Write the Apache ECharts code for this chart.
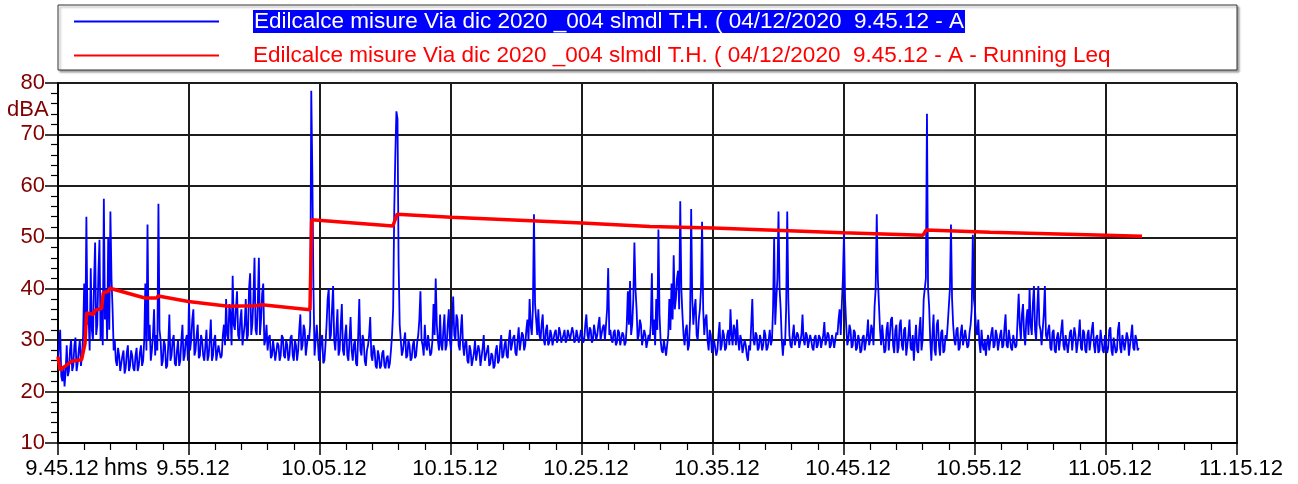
<!DOCTYPE html>
<html>
<head>
<meta charset="utf-8">
<script src="https://cdn.jsdelivr.net/npm/echarts@6/dist/echarts.min.js"></script>
<style>
  html, body { margin: 0; padding: 0; background: #fff; }
  #chart { width: 1298px; height: 484px; }
</style>
</head>
<body>
<div id="chart"></div>
<script>
// Measurement start: 9.45.12, samples every 5 s
const startSeconds = 9 * 3600 + 45 * 60 + 12;
const sampleStep = 5;

const seriesNames = [
  'Edilcalce misure Via dic 2020 _004 slmdl T.H. ( 04/12/2020  9.45.12 - A',
  'Edilcalce misure Via dic 2020 _004 slmdl T.H. ( 04/12/2020  9.45.12 - A - Running Leq'
];

// Instantaneous A-weighted level, dBA
const levelA = [
  26,29, 32,23, 22,25, 21,24, 29,23, 24,28, 30,24, 25,29, 30.5,24, 25.5,28,
  30,25, 27,31, 41,30, 54,33, 35,28, 44,32, 30,41, 49,31, 33,43, 49.5,30,
  38,29, 57.5,34, 40,30, 50,32, 55,42, 36,28, 30,26, 25,28.5, 27,24, 24,27,
  28,23.5, 24.5,27.5, 29,24, 25,28, 27,24.5, 24,27, 28.5,24, 25,27.5, 29,25, 26,30,
  41,28, 52.5,30, 33,26, 28,31, 36,27, 31,28, 56.5,32, 30,25, 26,30, 29,24.5,
  25,29, 35,26, 27,30, 31,25.5, 25,28, 30,25, 26,30, 33,26, 27,30, 31,26,
  38,28, 30,34, 36,27, 28,31, 33,26.5, 27,31, 30,27, 26,29, 32,26, 27,30,
  34,26, 27,30, 31,26, 26,29, 29,26.5, 27,31, 33,29, 38,31, 30,37, 35,29,
  42.5,33, 32,36, 39.5,31, 30,34, 36,29, 29,33, 38,30, 31,40, 43,31, 33,38,
  46,32, 31,37, 46,31, 34,39, 41,29, 30,33, 28,30.5, 31,26.5, 27,30, 30,26,
  26,29.5, 29,26, 27,31, 30.5,27, 26.5,30, 29,26, 27,30.5, 31,27, 26,30, 29,26,
  28,32, 35,28, 29,33, 32,27, 27,31, 30,33, 78.5,62, 40,27, 30,33, 30,26,
  27,30, 31,25.5, 26,29, 33,38, 40,30, 31,36, 40.5,30, 28,32, 36,27, 28,33,
  37,28, 27,31, 33,27, 26,30, 34.5,28, 26,29, 30,25.5, 25,31, 38,28, 27,31,
  30,26, 25,28, 29,31, 34.5,27, 26,29, 28,25, 24.5,28, 27,24.5, 25,27.5, 28,25,
  24.5,26.5, 27,24.5, 25.5,28, 31,36, 55,66, 74.5,73, 45,33, 30,27, 28,30, 31.5,26.5,
  27,30, 29,26, 26.5,29, 30,26.5, 27,29.5, 31,34, 39.5,30, 29,27, 33,29, 28,31,
  31,27, 27.5,30, 37,31, 42,33, 30,28, 35,29, 28,32, 35,28, 29,33, 36,30,
  28,33, 38.5,31, 30,35, 34,29, 28,32, 35,29, 27,29.5, 30,26, 25.5,29, 28,25,
  25,27.5, 30,26, 26,29, 28,25, 25,28.5, 31,26, 26,28, 29,25, 25.5,27.5, 27,24.5,
  25,28, 29,25.5, 26,29, 31,26.5, 27,29, 30,27, 26.5,30, 32,28, 28,30.5, 31,27.5,
  27,30, 32.5,28, 28,31.5, 31,28, 29,32, 34,30, 38,33, 31,36, 54.5,37, 34,31,
  36,31, 30,33, 35,30, 29,32, 33,29, 29.5,32, 31,29, 29,31.5, 32,29.5, 30,32.5,
  31.5,29.5, 29.5,31, 32,29.5, 30,32, 32,30, 30,32.5, 31.5,29.5, 30,32, 32,29.5, 30.5,32,
  31,29.5, 30,33, 35,31, 30,32.5, 32,29.5, 30,33, 33,30, 31,33, 34.5,30, 30,32.5,
  33,30, 30,36, 44,31, 32,30, 29.5,31.5, 32,29, 29.5,32, 31.5,29, 29,31.5, 31,29,
  29.5,33, 39.5,33, 41.5,31, 33,38, 49,40, 36,30, 31,34, 33,29, 29,32, 31,28.5,
  28.5,31, 30,33, 43,31, 34,29, 38,32, 51.5,35, 30,28, 27.5,30, 30,27, 27,31,
  38,32, 41,34, 46.5,36, 38,42, 43.5,36, 57,40, 35,31, 29,32, 33,28, 29,34,
  55.5,38, 33,36, 38,31, 30,34, 36,40, 53,36, 31,34, 35,30, 28,32, 31,27.5,
  27.5,30, 30,27, 28,31, 33.5,28, 29,32, 31,28, 28.5,31, 32,29, 36,31, 29,33,
  32,29, 34,30, 28,31, 30,27.5, 27.5,30, 29,27, 26,29, 28,33, 38,30, 29,31.5,
  31,28, 28.5,31, 30,28, 29,32, 31,28, 28.5,30, 32,29, 30,36, 50,33, 38,42,
  55,40, 36,30, 27,30, 29,36, 55,38, 31,29, 28.5,31, 33,29, 29,31.5, 31,28.5,
  28.5,31, 35,30, 29,31.5, 31,28.5, 28.5,31, 30,28.5, 28,30.5, 31,28.5, 29,31, 30.5,28.5,
  28.5,31, 33.5,29, 30,31.5, 31,28.5, 29,31, 30,28.5, 28.5,31.5, 31,34, 36,31, 37,42,
  51,38, 33,29, 30,33, 32,28.5, 29,32, 31.5,28, 28.5,31, 30,27.5, 28,30.5, 31,28,
  28,31, 34,29, 30,33, 32,29, 36.5,40, 54.5,42, 37,32, 29,33, 33,27.5, 28,32,
  33.5,28, 28,34, 34.5,29, 27.5,32, 33,27.5, 28.5,33, 34,29, 28,32, 32.5,27, 27,31,
  34,28.5, 28,31, 26,30, 33,28, 27.5,32, 34.5,28, 30,38, 38,42, 74,40, 36.5,30,
  26,31, 35,28, 27,33, 34,29, 27,31.5, 32,27.5, 28,31, 30,33, 36.5,40, 52.5,38,
  33,30, 29,32, 32.5,28, 28.5,31.5, 33,29, 29,32, 32,28.5, 29,31.5, 33,36, 50.5,38,
  36,32, 31,34, 29.5,27.5, 32,29, 28,30, 27,29.5, 31,28, 28,31.5, 32.5,28.5, 29,32,
  31,28, 28,31, 32,28.5, 29,32.5, 35,29, 28.5,32, 32,28.5, 28,31, 31,28.5, 29,34,
  39,33, 30,35, 37,31, 29,34, 36,31, 40,33, 31,37, 40.5,32, 30,36, 40.5,33,
  32,29, 29,35, 40.5,31, 30,32, 33,28.5, 28,31.5, 32,28, 27.5,30.5, 31.5,28, 28,32,
  34,29, 28,31, 31,27.5, 27.5,31.5, 32,28, 28,32.5, 31,27.5, 27.5,31, 34,28.5, 28,32,
  31.5,28, 27.5,31, 32,28, 28,32, 33.5,29, 27.5,30.5, 31,27.5, 28,32, 32,28, 27.5,31,
  31,27.5, 28.5,32, 32.5,28, 27,30.5, 30.5,27.5, 28,32, 33.5,28.5, 27.5,31, 31,28, 28,31.5,
  30.5,27, 27,31, 33,28.5, 28,31, 30,28, 28.5
];

// Running Leq breakpoints: seconds from start, dBA
const leqSeconds = [0, 9, 32, 63, 108, 124, 131, 162, 169, 200, 207, 230, 238, 398, 452, 459, 597, 780, 902, 933, 1154, 1162, 1534, 1553, 1800, 2400, 2711, 3000, 3595, 3962, 3976, 4269, 4800, 4965];
const leqValues  = [26.8, 24.2, 24.9, 25.9, 26.2, 29.4, 35.3, 35.0, 35.8, 36.2, 39.2, 39.5, 40.1, 38.2, 38.2, 38.6, 37.5, 36.6, 36.7, 36.9, 35.9, 53.4, 52.2, 54.5, 53.9, 52.8, 52.1, 51.8, 50.9, 50.4, 51.4, 51.0, 50.4, 50.2];

const yTicks = { min: 10, max: 80, step: 10 };
const xTicks = { min: 0, max: 5400, step: 600 };

function clock(sec) {
  const t = startSeconds + sec;
  const h = Math.floor(t / 3600);
  const m = Math.floor((t % 3600) / 60);
  const s = t % 60;
  return h + '.' + String(m).padStart(2, '0') + '.' + String(s).padStart(2, '0');
}

const levelData = levelA.map((v, i) => [i * sampleStep, v]);
const leqData = leqSeconds.map((s, i) => [s, leqValues[i]]);

const gridColor = '#1c1c1c';
const font = 'Liberation Sans, Arial, sans-serif';

const chart = echarts.init(document.getElementById('chart'), null, { renderer: 'canvas' });
chart.setOption({
  animation: false,
  backgroundColor: '#ffffff',
  grid: { left: 58, right: 61, top: 83, bottom: 41, containLabel: false },
  graphic: [
    {
      type: 'rect', z: 0,
      shape: { x: 58, y: 5, width: 1179, height: 65 },
      style: { fill: '#ffffff', stroke: '#333333', lineWidth: 1,
               shadowColor: 'rgba(0,0,0,0.35)', shadowBlur: 2, shadowOffsetX: 2, shadowOffsetY: 2 }
    },
    {
      type: 'text', left: 7, top: 99,
      style: { text: 'dBA', fill: '#800000', font: '22px ' + font }
    },
    {
      type: 'text', left: 104, top: 457,
      style: { text: 'hms', fill: '#000000', font: '23px ' + font }
    }
  ],
  legend: {
    orient: 'vertical',
    left: 68, top: 5,
    itemWidth: 145, itemHeight: 14, itemGap: 11,
    selectedMode: false,
    // line samples only, no marker dot
    itemStyle: { color: 'rgba(0,0,0,0)', borderWidth: 0, opacity: 0 },
    data: [{ name: seriesNames[0] }, { name: seriesNames[1] }],
    formatter: function (name) {
      return name === seriesNames[0] ? '{g| }{hl|' + name + '}' : '{g| }{rd|' + name + '}';
    },
    textStyle: {
      fontFamily: font, fontSize: 22.5,
      rich: {
        g: { width: 29, fontSize: 22.5 },
        hl: { color: '#ffffff', backgroundColor: '#0000ff', fontSize: 22.5, fontFamily: font, lineHeight: 27, padding: [0, 1, 0, 1] },
        rd: { color: '#ff0000', fontSize: 22.5, fontFamily: font, lineHeight: 27 }
      }
    }
  },
  xAxis: {
    type: 'value',
    min: xTicks.min, max: xTicks.max, interval: xTicks.step,
    axisLine: { show: true, onZero: false, lineStyle: { color: '#000', width: 2 } },
    axisTick: { show: true, length: 12, lineStyle: { color: '#000', width: 1.5 } },
    minorTick: { show: true, splitNumber: 5, length: 7, lineStyle: { color: '#000', width: 1.2 } },
    splitLine: { show: true, lineStyle: { color: gridColor, width: 2 } },
    axisLabel: {
      color: '#000', fontSize: 22, fontFamily: font, margin: 15,
      padding: [0, 0, 0, 8],
      formatter: v => clock(v)
    }
  },
  yAxis: {
    type: 'value',
    min: yTicks.min, max: yTicks.max, interval: yTicks.step,
    axisLine: { show: true, lineStyle: { color: '#000', width: 2 } },
    axisTick: { show: true, length: 13, lineStyle: { color: '#000', width: 1.5 } },
    minorTick: { show: true, splitNumber: 5, length: 7, lineStyle: { color: '#000', width: 1.2 } },
    splitLine: { show: true, lineStyle: { color: gridColor, width: 2 } },
    axisLabel: { color: '#800000', fontSize: 22, fontFamily: font, margin: 13 }
  },
  series: [
    {
      name: seriesNames[0], type: 'line', data: levelData,
      symbol: 'none', showSymbol: false,
      lineStyle: { color: '#0000ff', width: 1.8 },
      itemStyle: { color: '#0000ff' }, z: 3
    },
    {
      name: seriesNames[1], type: 'line', data: leqData,
      symbol: 'none', showSymbol: false,
      lineStyle: { color: '#ff0000', width: 3.5 },
      itemStyle: { color: '#ff0000' }, z: 4
    }
  ]
});
</script>
</body>
</html>
